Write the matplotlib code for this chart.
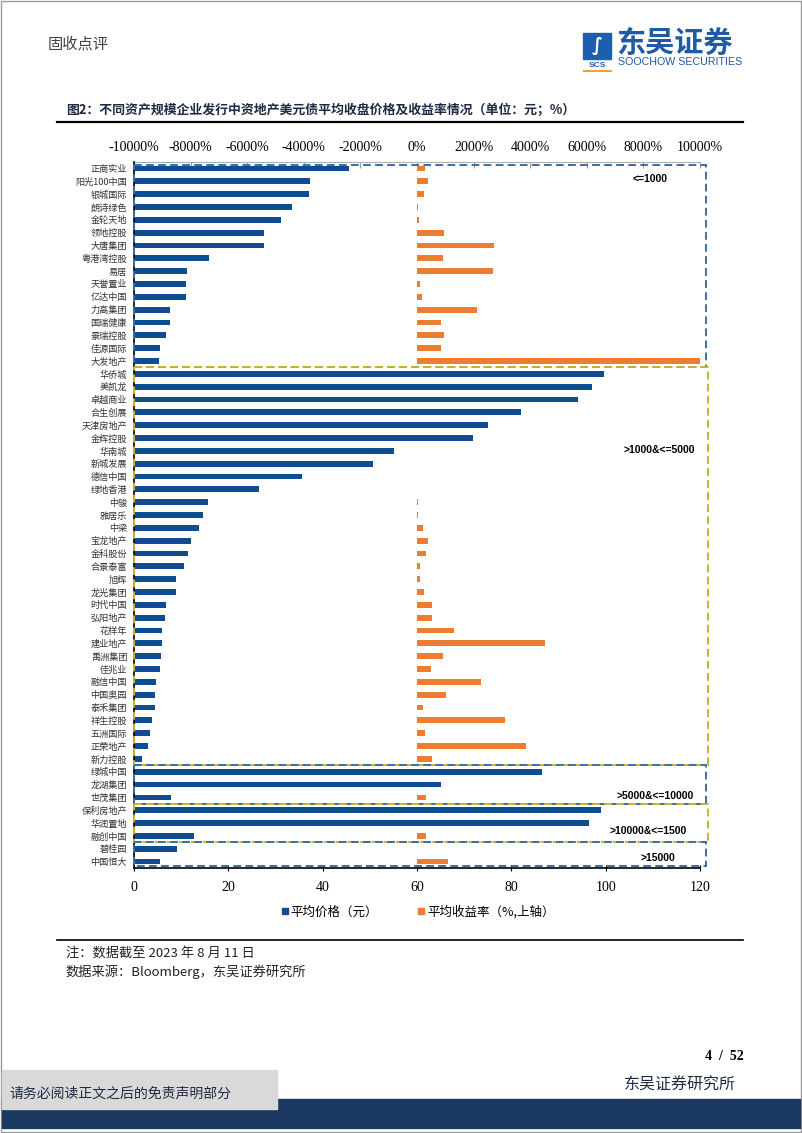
import matplotlib.pyplot as plt
from matplotlib.patches import Rectangle
from matplotlib.lines import Line2D

plt.rcParams['font.family'] = ['Noto Sans CJK SC', 'DejaVu Sans']

# companies, top to bottom
companies = [
    "正商实业", "阳光100中国", "银城国际", "朗诗绿色", "金轮天地", "领地控股", "大唐集团",
    "粤港湾控股", "易居", "天誉置业", "亿达中国", "力高集团", "国瑞健康", "景瑞控股",
    "佳源国际", "大发地产",
    "华侨城", "美凯龙", "卓越商业", "合生创展", "天津房地产", "金辉控股", "华南城",
    "新城发展", "德信中国", "绿地香港", "中骏", "雅居乐", "中梁", "宝龙地产", "金科股份",
    "合景泰富", "旭辉", "龙光集团", "时代中国", "弘阳地产", "花样年", "建业地产", "禹洲集团",
    "佳兆业", "融信中国", "中国奥园", "泰禾集团", "祥生控股", "五洲国际", "正荣地产", "新力控股",
    "绿城中国", "龙湖集团", "世茂集团",
    "保利房地产", "华润置地", "融创中国",
    "碧桂园", "中国恒大",
]

# average price (yuan), bottom axis
price = [
    45.6, 37.3, 37.1, 33.4, 31.1, 27.6, 27.6, 15.8, 11.2, 11.0, 11.0, 7.6, 7.6, 6.7, 5.6, 5.2,
    99.6, 97.2, 94.2, 82.1, 75.0, 71.9, 55.1, 50.7, 35.7, 26.4, 15.6, 14.6, 13.8, 12.0, 11.5,
    10.5, 8.8, 8.8, 6.7, 6.5, 5.9, 5.9, 5.7, 5.6, 4.7, 4.5, 4.5, 3.9, 3.4, 3.0, 1.6,
    86.5, 65.0, 7.8,
    99.1, 96.5, 12.8,
    9.2, 5.6,
]

# average yield (%), top axis
yield_pct = [
    294, 376, 259, 50, 70, 941, 2706, 906, 2694, 118, 176, 2106, 847, 941, 847, 10000,
    30, 30, 30, 30, 30, 30, 10, 10, 10, 10, 25, 25, 200, 388, 306,
    118, 118, 235, 541, 529, 1318, 4506, 906, 482, 2247, 1012, 224, 3118, 271, 3835, 541,
    30, 30, 306,
    30, 30, 318,
    15, 1094,
]

# asset-size groups: (label, first row, last row)
groups = [
    ("<=1000", 0, 15),
    (">1000&<=5000", 16, 46),
    (">5000&<=10000", 47, 49),
    (">10000&<=1500", 50, 52),
    (">15000", 53, 54),
]

top_ticks = [-10000, -8000, -6000, -4000, -2000, 0, 2000, 4000, 6000, 8000, 10000]
bottom_ticks = [0, 20, 40, 60, 80, 100, 120]

blue = "#0f4c92"
orange = "#ed7d31"
box_blue = "#3a6fa3"
box_yellow = "#c8b42c"
serif = ["Liberation Serif", "DejaVu Serif"]

fig = plt.figure(figsize=(8.02, 11.33), dpi=100)

# page frame
fig.add_artist(Rectangle((0.001, 0.001), 0.998, 0.998, transform=fig.transFigure,
                         fill=False, edgecolor="#9a9a9a", lw=1))

ax = fig.add_axes([0.1671, 0.2339, 0.7057, 0.6231])
ax2 = ax.twiny()
ax.set_zorder(ax2.get_zorder() + 1)
ax.patch.set_visible(False)

y = list(range(len(companies)))
ax2.barh(y, yield_pct, height=0.45, color=orange)
ax.barh(y, price, height=0.45, color=blue)

ax.set_ylim(len(companies) - 0.5, -0.5)
ax.set_xlim(0, 120)
ax2.set_xlim(-10000, 10000)

ax.set_yticks(y)
ax.set_yticklabels(companies, fontsize=6.6, color="#333333")
ax.tick_params(axis="y", length=0, pad=5)
ax.set_xticks(bottom_ticks)
ax.set_xticklabels([str(t) for t in bottom_ticks], fontsize=10, family=serif)
ax.tick_params(axis="x", direction="inout", length=5, pad=7)
ax2.set_xticks(top_ticks)
ax2.set_xticklabels(["%d%%" % t for t in top_ticks], fontsize=10, family=serif)
ax2.tick_params(axis="x", direction="in", length=4, color="#999999", pad=6)

for a in (ax, ax2):
    a.spines["right"].set_visible(False)
ax.spines["top"].set_visible(False)
ax2.spines["left"].set_visible(False)
ax2.spines["bottom"].set_visible(False)
ax2.spines["top"].set_color("#b0b0b0")
ax.spines["left"].set_linewidth(1.2)
ax.spines["bottom"].set_linewidth(1.2)

# dashed group boxes
label_y = [0.8, 21.9, 48.9, 51.6, 53.7]
label_x = [109.5, 111.3, 110.6, 109.0, 111.0]
for i, (name, first, last) in enumerate(groups):
    col = box_blue if i % 2 == 0 else box_yellow
    x1 = 121.3 if i % 2 == 0 else 121.7
    top = first - 0.5 if i > 0 else -0.28
    bot = last + 0.5 if i < len(groups) - 1 else last + 0.36
    ax.add_patch(Rectangle((0, top), x1, bot - top, fill=False, edgecolor=col,
                           lw=1.4, ls=(0, (4, 2.2)), clip_on=False, zorder=5))
    ax.text(label_x[i], label_y[i], name, fontsize=7.5, fontweight="bold",
            family=["Liberation Sans", "DejaVu Sans"], ha="center", va="center")

# legend
handles = [Line2D([], [], marker="s", ls="", color=blue, markersize=5),
           Line2D([], [], marker="s", ls="", color=orange, markersize=5)]
fig.legend(handles, ["平均价格（元）", "平均收益率（%,上轴）"], loc="center",
           bbox_to_anchor=(0.52, 0.195), ncol=2, frameon=False, fontsize=9,
           handletextpad=0.1, columnspacing=3, handlelength=0.8)

# header
fig.text(0.06, 0.957, "固收点评", fontsize=11, color="#404040")
fig.add_artist(Rectangle((0.727, 0.948), 0.035, 0.023, transform=fig.transFigure,
                         color="#1c5fb0"))
fig.text(0.7445, 0.9595, "∫", fontsize=13, color="white", ha="center", va="center",
         fontweight="bold", family=["DejaVu Sans"])
fig.text(0.7445, 0.9425, "SCS", fontsize=6, color="#1c5fb0", ha="center", va="center",
         fontweight="bold", family=["Liberation Sans"])
fig.add_artist(Line2D([0.728, 0.762], [0.9375, 0.9375], transform=fig.transFigure,
                      color="#f0a030", lw=1.5))
fig.text(0.769, 0.9625, "东吴证券", fontsize=21, color="#1f5aa6", fontweight="bold",
         va="center")
fig.text(0.771, 0.9455, "SOOCHOW SECURITIES", fontsize=7.7, color="#1f5aa6",
         va="center", family=["Liberation Sans Narrow", "Liberation Sans"])

# title
fig.text(0.082, 0.903, "图2：不同资产规模企业发行中资地产美元债平均收盘价格及收益率情况（单位：元；%）",
         fontsize=9.3, fontweight="bold", color="#1f2a44", va="center")
fig.add_artist(Line2D([0.071, 0.927], [0.8925, 0.8925], transform=fig.transFigure,
                      color="black", lw=1.6))

# notes
fig.add_artist(Line2D([0.071, 0.927], [0.1705, 0.1705], transform=fig.transFigure,
                      color="black", lw=1.2))
fig.text(0.082, 0.159, "注：数据截至 2023 年 8 月 11 日", fontsize=9.5, color="#222222",
         va="center")
fig.text(0.082, 0.142, "数据来源：Bloomberg，东吴证券研究所", fontsize=9.5, color="#222222",
         va="center")

# footer
fig.text(0.927, 0.0675, "4  /  52", fontsize=10, fontweight="bold", ha="right",
         va="center", family=serif)
fig.text(0.917, 0.0425, "东吴证券研究所", fontsize=11.5, color="#1f2a44", ha="right",
         va="center")
fig.add_artist(Rectangle((0.002, 0.021), 0.343, 0.035, transform=fig.transFigure,
                         color="#d9d9d9", zorder=2))
fig.add_artist(Rectangle((0.002, 0.004), 0.996, 0.026, transform=fig.transFigure,
                         color="#19375f", zorder=1))
fig.text(0.012, 0.0345, "请务必阅读正文之后的免责声明部分", fontsize=10, color="#1f2a44",
         va="center", zorder=3)

fig.savefig("out.png", dpi=100)
